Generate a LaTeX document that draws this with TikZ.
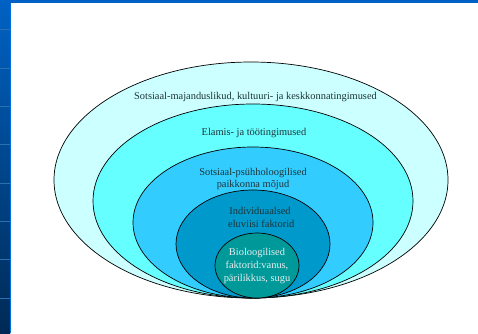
\documentclass[tikz,border=0pt]{standalone}
\usepackage{fontspec}
\setmainfont{Liberation Serif}
\begin{document}
\begin{tikzpicture}[x=1pt,y=-1pt,
  ring/.style={draw=black,line width=0.7pt},
  lbl/.style={text=txtdark,font=\fontsize{10.4}{12.6}\selectfont,align=center,inner sep=0pt},
  lblw/.style={text=txtlight,font=\fontsize{10.4}{12.6}\selectfont,align=center,inner sep=0pt},
  gridline/.style={draw=bandline,line width=0.5pt}]
\definecolor{txtdark}{HTML}{1E3438}
\definecolor{txtlight}{HTML}{E6EEEE}
\definecolor{bandtop}{HTML}{0062C4}
\definecolor{bandbot}{HTML}{002A55}
\definecolor{bandedge}{HTML}{0070E0}
\definecolor{bandline}{HTML}{2A6FB0}
\definecolor{c1}{HTML}{CCFFFF}
\definecolor{c2}{HTML}{66FFFF}
\definecolor{c3}{HTML}{33CCFF}
\definecolor{c4}{HTML}{0099CC}
\definecolor{c5}{HTML}{009999}
\useasboundingbox (0,0) rectangle (478,333);
\fill[white] (0,0) rectangle (478,333);
% slide frame
\shade[top color=bandtop,bottom color=bandbot] (0,0) rectangle (10,333);
\fill[bandtop] (0,0) rectangle (478,3);
\foreach \yy in {29,68,106,144,183,221,259,298} \draw[gridline] (0,\yy) -- (10,\yy);
\fill[bandedge] (10,3) rectangle (11.2,333);
% rings
\draw[ring,fill=c1] (251,180) ellipse [x radius=197,y radius=118];
\draw[ring,fill=c2] (253,201) ellipse [x radius=160,y radius=97];
\draw[ring,fill=c3] (253,222.5) ellipse [x radius=120,y radius=75.5];
\draw[ring,fill=c4] (253,244) ellipse [x radius=77,y radius=54];
\draw[ring,fill=c5] (257,265.5) ellipse [x radius=42,y radius=32.5];
% labels
\node[lbl] (t1) at (255.5,97) {Sotsiaal-majanduslikud, kultuuri- ja keskkonnatingimused};
\node[lbl] (t2) at (254,133) {Elamis- ja töötingimused};
\node[lbl] (t3) at (253,179) {Sotsiaal-psühholoogilised\\paikkonna mõjud};
\node[lbl] (t4) at (260,217.5) {Individuaalsed\\\ eluviisi faktorid};
\node[lblw] (t5) at (257,266) {Bioloogilised\\faktorid:vanus,\\pärilikkus, sugu};
\end{tikzpicture}
\end{document}
